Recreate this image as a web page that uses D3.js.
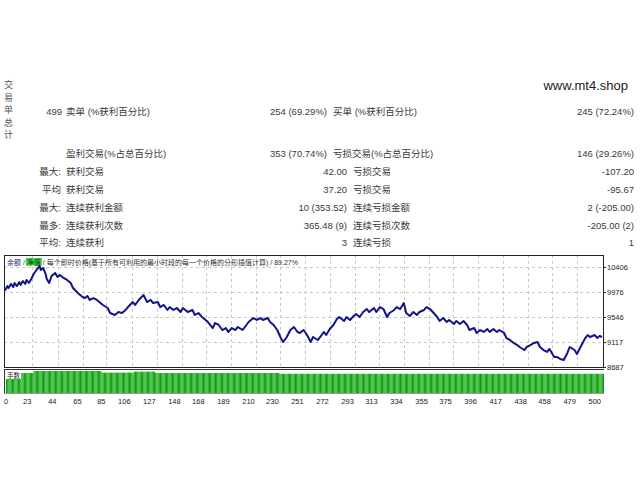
<!DOCTYPE html>
<html><head><meta charset="utf-8">
<script src="https://cdn.jsdelivr.net/npm/d3@7"></script>
<style>
body{margin:0;background:#fff;}
svg{display:block;font-family:"Liberation Sans","Noto Sans CJK SC",sans-serif;}
</style></head><body>
<svg id="c" width="640" height="480"></svg>
<script>
// ---------- data ----------
const totalTrades = "499";
const sideTitle = ["交","易","单","总","计"];
const rowLabels   = ["", "", "最大:", "平均", "最大:", "最多:", "平均:"];
const leftNames   = ["卖单 (%获利百分比)", "盈利交易(%占总百分比)", "获利交易", "获利交易", "连续获利金额", "连续获利次数", "连续获利"];
const leftValues  = ["254 (69.29%)", "353 (70.74%)", "42.00", "37.20", "10 (353.52)", "365.48 (9)", "3"];
const rightNames  = ["买单 (%获利百分比)", "亏损交易(%占总百分比)", "亏损交易", "亏损交易", "连续亏损金额", "连续亏损次数", "连续亏损"];
const rightValues = ["245 (72.24%)", "146 (29.26%)", "-107.20", "-95.67", "2 (-205.00)", "-205.00 (2)", "1"];
const siteText = "www.mt4.shop";

const headerParts = ["余额", "净值", "每个即时价格(基于所有可利用的最小时段的每一个价格的分形插值计算)", "89.27%"];

const trades = [0,2,3,5,7,8,10,12,13,15,17,18,20,22,24,27,29,30,32,34,35,37,39,42,44,46,49,52,55,57,61,65,67,69,71,74,77,80,82,86,88,92,95,98,101,103,107,109,112,116,119,122,124,128,130,133,136,138,141,144,147,149,153,157,159,162,165,168,170,174,176,179,182,185,187,190,193,195,199,201,204,208,211,214,216,220,222,225,228,231,233,236,239,242,245,247,250,253,256,258,262,264,267,269,272,275,278,280,284,286,289,292,294,297,300,303,305,309,311,314,317,320,322,326,328,331,334,336,339,342,345,347,351,353,356,359,362,364,367,370,372,376,378,381,384,387,389,393,395,398,401,404,406,409,412,414,418,420,423,426,429,431,435,437,440,443,446,448,451,454,456,460,462,465,468,471,473,477,479,482,486,488,490,494,496,498,500];
const balance = [10000,10079,10045,10114,10062,10131,10079,10148,10097,10165,10114,10183,10131,10200,10286,10372,10423,10354,10389,10286,10200,10131,10251,10303,10234,10269,10217,10183,10131,10045,9959,9890,9873,9907,9839,9873,9839,9787,9753,9701,9615,9581,9632,9615,9667,9718,9804,9753,9839,9925,9804,9839,9787,9804,9718,9753,9667,9718,9667,9701,9632,9701,9632,9667,9581,9615,9546,9495,9460,9357,9443,9409,9323,9357,9289,9357,9323,9375,9323,9375,9460,9529,9495,9529,9495,9529,9460,9409,9323,9185,9117,9203,9323,9375,9289,9272,9323,9237,9117,9203,9151,9203,9289,9237,9340,9409,9512,9546,9478,9546,9495,9564,9598,9546,9632,9684,9632,9701,9632,9718,9684,9546,9615,9667,9718,9684,9787,9615,9564,9632,9581,9632,9667,9718,9684,9615,9546,9478,9529,9460,9495,9426,9478,9426,9478,9409,9323,9357,9272,9323,9289,9340,9289,9340,9289,9323,9272,9185,9151,9100,9065,9031,8979,9031,9065,9100,9117,9031,8979,8945,8997,8859,8859,8825,8807,8928,9031,8979,8911,9031,9185,9237,9203,9237,9185,9220,9203];

// lot size runs: [first trade, last trade, lots]
const lotRuns = [[0,22,0.100],[23,79,0.110],[80,106,0.102],[107,124,0.107],[125,228,0.100],[229,500,0.096]];

const yTicks = [10406, 9976, 9546, 9117, 8687];
const xTicks = [0,23,44,65,85,106,127,148,168,189,210,230,251,272,293,313,334,355,375,396,417,438,458,479,500];

// ---------- drawing ----------
const svg = d3.select("#c");
svg.append("rect").attr("width",640).attr("height",480).attr("fill","#fff");

const txt = "#3a3a3a";
svg.append("g").selectAll("text").data(sideTitle).join("text")
  .attr("x",8.5).attr("y",(d,i)=>85+i*12.6).attr("text-anchor","middle")
  .attr("dominant-baseline","central").attr("font-size",9).attr("fill","#555").text(d=>d);

svg.append("text").attr("x",628).attr("y",85).attr("text-anchor","end")
  .attr("dominant-baseline","central").attr("font-size",13).attr("fill","#222").text(siteText);

const rowY = [111.5,153,171.5,189.5,207.5,225,242];
const tbl = svg.append("g").attr("font-size",9.5).attr("fill",txt).attr("dominant-baseline","central");
tbl.append("text").attr("x",62).attr("y",rowY[0]).attr("text-anchor","end").text(totalTrades);
rowY.forEach((y,i)=>{
  if(rowLabels[i]) tbl.append("text").attr("x",61).attr("y",y).attr("text-anchor","end").text(rowLabels[i]);
  tbl.append("text").attr("x",66).attr("y",y).text(leftNames[i]);
  tbl.append("text").attr("x", i<2?327:347).attr("y",y).attr("text-anchor","end").text(leftValues[i]);
  tbl.append("text").attr("x", i<2?333:353).attr("y",y).text(rightNames[i]);
  tbl.append("text").attr("x",634).attr("y",y).attr("text-anchor","end").text(rightValues[i]);
});

// chart geometry
const L=4, R=603, T=255, B=367, VT=369, VB=393;
const x = d3.scaleLinear().domain([0,500]).range([5,602]);
const y = d3.scaleLinear().domain([8687,10406]).range([367,267]);
const yv = d3.scaleLinear().domain([0,0.11]).range([VB,371]);

svg.append("rect").attr("x",L).attr("y",T).attr("width",R-L).attr("height",B-T).attr("fill","#fff");
const grid = svg.append("g").attr("stroke","#c8c8c8").attr("stroke-dasharray","3,3").attr("stroke-width",1).attr("shape-rendering","crispEdges");
grid.selectAll("line.h").data(yTicks.slice(0,4)).join("line")
  .attr("x1",L).attr("x2",R).attr("y1",d=>Math.round(y(d))+0.5).attr("y2",d=>Math.round(y(d))+0.5);
grid.selectAll("line.v").data(xTicks.slice(1,-1)).join("line")
  .attr("y1",T).attr("y2",B).attr("x1",d=>Math.round(x(d))+0.5).attr("x2",d=>Math.round(x(d))+0.5);

// header
const hdr = svg.append("text").attr("x",7).attr("y",261.5).attr("font-size",7).attr("dominant-baseline","central").attr("fill","#333");
hdr.append("tspan").attr("fill","#2a2a6a").text(headerParts[0]);
hdr.append("tspan").text(" / ");
hdr.append("tspan").attr("fill","#0a3a0a").text(headerParts[1]);
hdr.append("tspan").text(" / " + headerParts[2] + " / " + headerParts[3]);
{
  const n = hdr.node();
  const s = n.getStartPositionOfChar(headerParts[0].length + 3);
  const e = n.getEndPositionOfChar(headerParts[0].length + 3 + headerParts[1].length - 1);
  svg.insert("rect", () => hdr.node()).attr("x",s.x-1).attr("y",258).attr("width",e.x-s.x+2).attr("height",7.5).attr("fill","#3fd04a");
}

// balance line
const line = d3.line().x(d=>x(d[0])).y(d=>y(d[1]));
svg.append("path").datum(d3.zip(trades,balance)).attr("d",line)
  .attr("fill","none").attr("stroke","#14148a").attr("stroke-width",2).attr("stroke-linejoin","round");

svg.append("rect").attr("x",L+0.5).attr("y",T+0.5).attr("width",R-L).attr("height",B-T)
  .attr("fill","none").attr("stroke","#222").attr("stroke-width",1).attr("shape-rendering","crispEdges");

// right axis
const ra = svg.append("g");
ra.selectAll("line").data(yTicks).join("line").attr("x1",R).attr("x2",R+3)
  .attr("y1",d=>Math.round(y(d))+0.5).attr("y2",d=>Math.round(y(d))+0.5).attr("stroke","#222").attr("shape-rendering","crispEdges");
ra.selectAll("text").data(yTicks).join("text").attr("x",607).attr("y",d=>y(d)+0.5)
  .attr("dominant-baseline","central").attr("font-size",7.5).attr("fill","#222").text(d=>d);

// volume panel
svg.append("line").attr("x1",L).attr("x2",R+1).attr("y1",VT+0.5).attr("y2",VT+0.5).attr("stroke","#333").attr("shape-rendering","crispEdges");
svg.append("line").attr("x1",L+0.5).attr("x2",L+0.5).attr("y1",VT).attr("y2",VB).attr("stroke","#333").attr("shape-rendering","crispEdges");
const lots = d3.range(0,501).map(t => { const r = lotRuns.find(q => t>=q[0] && t<=q[1]); return [t, r[2]]; });
svg.append("g").selectAll("rect").data(lots).join("rect")
  .attr("x",d=>x(d[0])+1).attr("width",1).attr("y",d=>yv(d[1])).attr("height",d=>VB-yv(d[1]))
  .attr("fill","#00a000");
svg.append("line").attr("x1",L).attr("x2",R+1).attr("y1",VB+0.5).attr("y2",VB+0.5).attr("stroke","#999").attr("shape-rendering","crispEdges");
svg.append("rect").attr("x",6).attr("y",371).attr("width",15).attr("height",8).attr("fill","#fff");
svg.append("text").attr("x",7).attr("y",375).attr("font-size",6.5).attr("dominant-baseline","central").attr("fill","#222").text("手数");

// x axis labels
svg.append("g").selectAll("text").data(xTicks).join("text")
  .attr("x",d=> d===0 ? 4 : x(d)-1).attr("y",401).attr("text-anchor",d=>d===0?"start":"end")
  .attr("dominant-baseline","central").attr("font-size",7.5).attr("fill","#222").text(d=>d);
</script>
</body></html>
